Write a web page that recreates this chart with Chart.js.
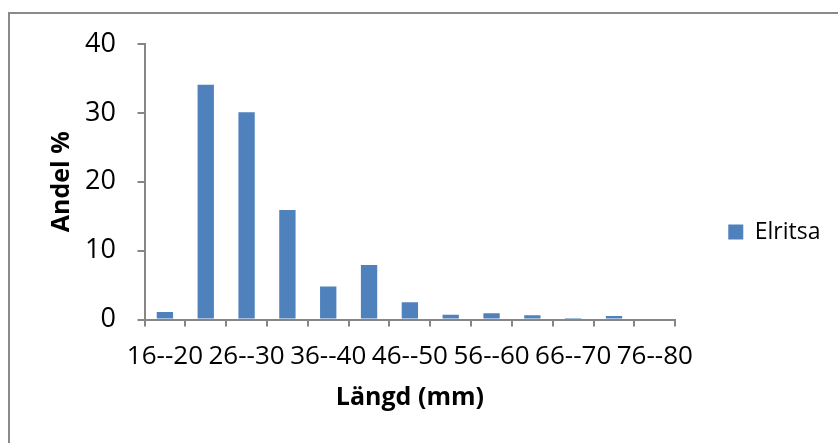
<!DOCTYPE html>
<html>
<head>
<meta charset="utf-8">
<script src="https://cdn.jsdelivr.net/npm/chart.js@4"></script>
<style>
  html, body { margin: 0; padding: 0; background: #ffffff; }
  #wrap { position: relative; width: 838px; height: 443px; overflow: hidden; background: #ffffff; }
  #frame { position: absolute; left: 8px; top: 12px; width: 900px; height: 500px;
           border-top: 2px solid #8a8a8a; border-left: 2px solid #8a8a8a; }
  canvas { position: absolute; left: 0; top: 0; }
</style>
</head>
<body>
<div id="wrap">
  <div id="frame"></div>
  <canvas id="c" width="838" height="443"></canvas>
</div>
<script>
const categories = ['16--20','21--25','26--30','31--35','36--40','41--45','46--50','51--55','56--60','61--65','66--70','71--75','76--80'];
const elritsa = [1.1, 34.1, 30.1, 15.9, 4.8, 7.9, 2.5, 0.7, 0.9, 0.6, 0.2, 0.5, 0];
const shownTickLabels = ['16--20','26--30','36--40','46--50','56--60','66--70','76--80'];
const yTicks = [0, 10, 20, 30, 40];
const seriesName = 'Elritsa';
const xTitle = 'Längd (mm)';
const yTitle = 'Andel %';

const axisColor = '#868686';
Chart.defaults.font.family = "'Open Sans', 'DejaVu Sans', sans-serif";
Chart.defaults.color = '#000000';

new Chart(document.getElementById('c'), {
  type: 'bar',
  data: {
    labels: categories,
    datasets: [{
      label: seriesName,
      data: elritsa,
      backgroundColor: '#4F81BD',
      borderWidth: 0,
      barPercentage: 0.4,
      categoryPercentage: 1.0
    }]
  },
  options: {
    responsive: false,
    animation: false,
    devicePixelRatio: 1,
    layout: { padding: { left: 0, top: 44, right: 7.5, bottom: 23 } },
    plugins: {
      tooltip: { enabled: false },
      legend: {
        position: 'right',
        labels: {
          boxWidth: 15,
          boxHeight: 15,
          padding: 53,
          color: '#000000',
          font: { size: 23 }
        }
      }
    },
    scales: {
      x: {
        offset: true,
        grid: { offset: true, drawOnChartArea: false, drawTicks: true, tickLength: 7, color: axisColor, lineWidth: 2 },
        border: { display: true, color: axisColor, width: 2 },
        ticks: {
          autoSkip: false, maxRotation: 0, minRotation: 0, padding: 14.2,
          color: '#000000', font: { size: 26 },
          callback: function(v, i) {
            const lab = categories[i];
            return shownTickLabels.indexOf(lab) >= 0 ? lab : '';
          }
        },
        title: { display: true, text: xTitle, color: '#000000', font: { size: 25, weight: 'bold' }, padding: { top: 0, bottom: 7 } },
        afterFit: function(s) { s.height = 100.5; }
      },
      y: {
        min: 0, max: 40,
        grid: { drawOnChartArea: false, drawTicks: true, tickLength: 7, color: axisColor, lineWidth: 2 },
        border: { display: true, color: axisColor, width: 2 },
        afterBuildTicks: function(s) { s.ticks = yTicks.map(v => ({ value: v })); },
        ticks: { padding: 21.5, color: '#000000', font: { size: 27 } },
        title: { display: true, text: yTitle, color: '#000000', font: { size: 25, weight: 'bold' }, padding: { top: 46.5, bottom: 0 } },
        afterFit: function(s) { s.width = 144.5; }
      }
    }
  }
});
</script>
</body>
</html>
